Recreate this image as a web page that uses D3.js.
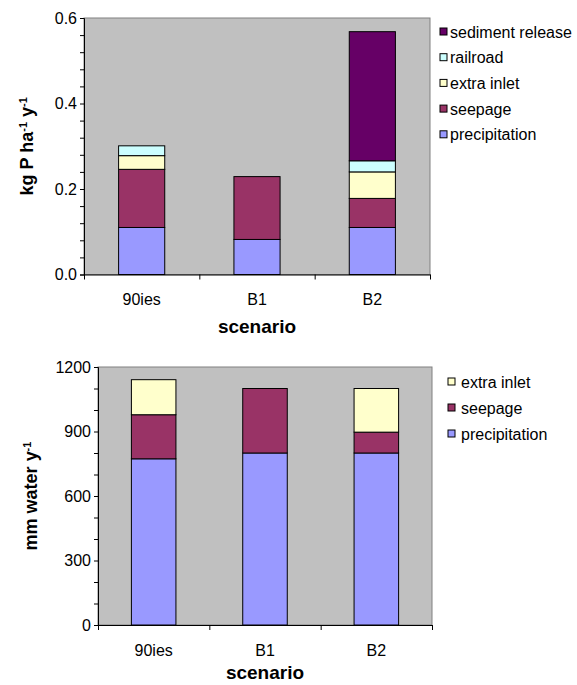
<!DOCTYPE html>
<html>
<head>
<meta charset="utf-8">
<script src="https://cdn.jsdelivr.net/npm/d3@7"></script>
<style>
  body { margin: 0; background: #fff; }
  text { font-family: Arial, "Liberation Sans", sans-serif; fill: #000; }
</style>
</head>
<body>
<script>
// scenarios on the x axis
let scenarios = ["90ies", "B1", "B2"];

// phosphorus load, kg P / ha / y
let pSeries = ["precipitation", "seepage", "extra inlet", "railroad", "sediment release"];
let pPrecipitation = [0.110, 0.082, 0.110];
let pSeepage = [0.136, 0.147, 0.068];
let pExtraInlet = [0.032, 0, 0.062];
let pRailroad = [0.023, 0, 0.026];
let pSediment = [0, 0, 0.302];
let pTicks = [0, 0.2, 0.4, 0.6];

// water, mm / y
let wSeries = ["precipitation", "seepage", "extra inlet"];
let wPrecipitation = [773, 800, 800];
let wSeepage = [205, 300, 97];
let wExtraInlet = [163, 0, 203];
let wTicks = [0, 300, 600, 900, 1200];

let colors = {
    "precipitation": "#9999ff",
    "seepage": "#993366",
    "extra inlet": "#ffffcc",
    "railroad": "#ccffff",
    "sediment release": "#660066"
};

let width = 577;
let height = 685;

let svg = d3.select("body")
    .append("svg")
    .attr("width", width)
    .attr("height", height)

function drawChart(opt) {
    // build rows for d3.stack
    let rows = scenarios.map((s, i) => {
        let r = { scenario: s };
        opt.series.forEach((name, k) => r[name] = opt.values[k][i]);
        return r;
    });
    let stacked = d3.stack().keys(opt.series)(rows);

    let xScale = d3.scaleBand()
        .domain(scenarios)
        .range([opt.left, opt.right])
        .paddingInner(0.6)
        .paddingOuter(0.3)

    let yScale = d3.scaleLinear()
        .domain([0, opt.max])
        .range([opt.bottom, opt.top])

    let g = svg.append("g")

    // plot area
    g.append("rect")
        .attr("x", opt.left)
        .attr("y", opt.top)
        .attr("width", opt.right - opt.left)
        .attr("height", opt.bottom - opt.top)
        .attr("fill", "#c0c0c0")
        .attr("stroke", "#808080")

    // bars
    g.selectAll("g.layer")
        .data(stacked)
        .enter()
        .append("g")
        .attr("class", "layer")
        .attr("fill", (d) => colors[d.key])
        .selectAll("rect")
        .data((d) => d.filter((p) => p[1] - p[0] > 0))
        .enter()
        .append("rect")
        .attr("x", (d) => xScale(d.data.scenario))
        .attr("y", (d) => yScale(d[1]))
        .attr("width", xScale.bandwidth())
        .attr("height", (d) => yScale(d[0]) - yScale(d[1]))
        .attr("stroke", "#000")
        .attr("stroke-width", 1)

    // y axis with minor ticks
    let yAxis = d3.axisLeft(yScale)
        .tickValues(d3.range(0, opt.max + opt.minor / 2, opt.minor))
        .tickSize(4)
        .tickFormat((d) => tickLabel(d, opt))
    let ya = g.append("g")
        .attr("transform", "translate(" + opt.left + ",0)")
        .call(yAxis)
    ya.selectAll("text")
        .style("font-size", "16px")
        .attr("x", -7)
    ya.select(".domain").attr("stroke", "#000")

    // x axis: labels under the bars, ticks between categories
    let xa = g.append("g")
        .attr("transform", "translate(0," + opt.bottom + ")")
        .call(d3.axisBottom(xScale).tickSize(0))
    xa.selectAll("text")
        .style("font-size", "16px")
        .attr("y", 0)
        .attr("dy", null)
        .attr("transform", "translate(0," + opt.labelY + ")")
    xa.select(".domain").attr("stroke", "#000")

    let xEdges = d3.scaleLinear().domain([0, scenarios.length]).range([opt.left, opt.right])
    g.append("g")
        .attr("transform", "translate(0," + opt.bottom + ")")
        .call(d3.axisBottom(xEdges).tickValues(d3.range(0, scenarios.length + 1)).tickSize(5).tickFormat(""))
        .select(".domain").remove()

    // x title
    g.append("text")
        .attr("x", (opt.left + opt.right) / 2)
        .attr("y", opt.bottom + opt.titleY)
        .attr("text-anchor", "middle")
        .style("font-size", "19px")
        .style("font-weight", "bold")
        .text("scenario")

    // y title
    let yt = g.append("text")
        .attr("transform", "translate(" + opt.yTitleX + "," + ((opt.top + opt.bottom) / 2) + ") rotate(-90)")
        .attr("text-anchor", "middle")
        .style("font-size", "18px")
        .style("font-weight", "bold")
    opt.yTitle.forEach((part) => {
        let t = yt.append("tspan").text(part.t)
        if (part.sup) {
            t.attr("baseline-shift", "super").style("font-size", "11px")
        }
    })

    // legend, reversed so the top series is listed first
    let legendItems = opt.series.slice().reverse();
    let items = g.append("g").selectAll("g")
        .data(legendItems)
        .enter()
        .append("g")
        .attr("transform", (d, i) => "translate(" + opt.legendX + "," + (opt.legendY + i * opt.legendStep) + ")")
    items.append("rect")
        .attr("x", 0)
        .attr("y", -4)
        .attr("width", 7)
        .attr("height", 7)
        .attr("fill", (d) => colors[d])
        .attr("stroke", "#000")
    items.append("text")
        .attr("x", opt.legendText)
        .attr("y", 0)
        .attr("dy", "0.35em")
        .style("font-size", "16px")
        .text((d) => d)
}

function tickLabel(d, opt) {
    let isMajor = opt.ticks.some((t) => Math.abs(t - d) < 1e-9);
    if (!isMajor) return "";
    return opt.format(d);
}

drawChart({
    series: pSeries,
    values: [pPrecipitation, pSeepage, pExtraInlet, pRailroad, pSediment],
    max: 0.6,
    minor: 0.04,
    ticks: pTicks,
    format: d3.format(".1f"),
    left: 84, right: 430, top: 18, bottom: 274.5,
    labelY: 30, titleY: 58,
    yTitleX: 33,
    yTitle: [{ t: "kg P ha" }, { t: "-1", sup: true }, { t: " y" }, { t: "-1", sup: true }],
    legendX: 440, legendY: 32, legendStep: 25.7, legendText: 10
})

drawChart({
    series: wSeries,
    values: [wPrecipitation, wSeepage, wExtraInlet],
    max: 1200,
    minor: 100,
    ticks: wTicks,
    format: d3.format("d"),
    left: 98, right: 432, top: 367, bottom: 625,
    labelY: 31, titleY: 54,
    yTitleX: 37,
    yTitle: [{ t: "mm water y" }, { t: "-1", sup: true }],
    legendX: 448, legendY: 382, legendStep: 26, legendText: 13
})
</script>
</body>
</html>
